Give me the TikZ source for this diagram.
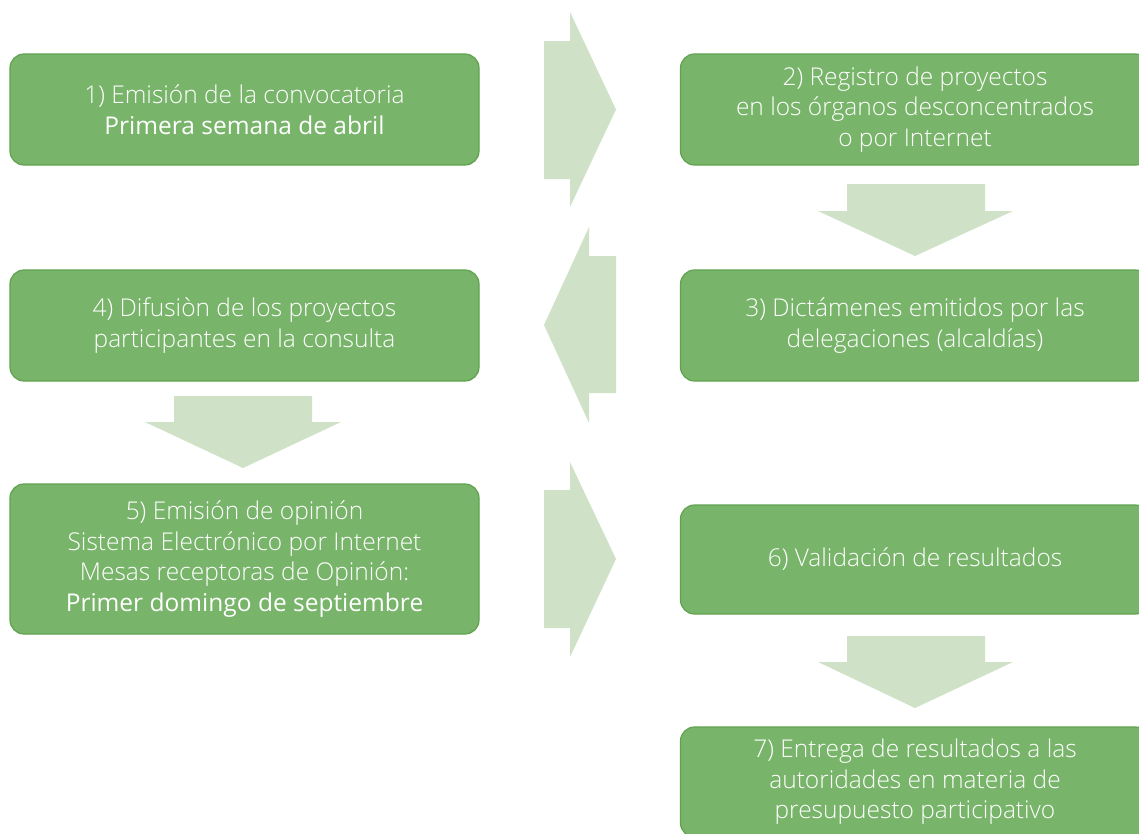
\documentclass[tikz,border=0pt]{standalone}
\usepackage{fontspec}
\setmainfont{Open Sans}
\newfontfamily\regfont{Open Sans}
\IfFontExistsTF{Open Sans Light}{\newfontfamily\lightfont{Open Sans Light}}{\newfontfamily\lightfont{Open Sans}}
\definecolor{boxfill}{RGB}{120,180,106}
\definecolor{boxline}{RGB}{96,162,80}
\definecolor{arrowfill}{RGB}{207,226,199}
\begin{document}
\begin{tikzpicture}[x=1pt,y=-1pt,
  box/.style={draw=boxline, line width=1.2pt, fill=boxfill, rounded corners=14pt,
    minimum width=469pt, align=center, text=white, inner sep=0pt,
    font=\lightfont\fontsize{24.5}{30.5}\selectfont},
  blockarrow/.style={fill=arrowfill, draw=none}]
\clip (0,0) rectangle (1139,833);
% boxes
\node[box, minimum height=111pt] (b1) at (244.5,109.5) {1) Emisión de la convocatoria\\{\regfont Primera semana de abril}};
\node[box, minimum height=111pt] (b2) at (915,109.5) {2) Registro de proyectos\\en los órganos desconcentrados\\o por Internet};
\node[box, minimum height=111pt] (b3) at (915,325.5) {3) Dictámenes emitidos por las\\delegaciones (alcaldías)};
\node[box, minimum height=111pt] (b4) at (244.5,325.5) {4) Difusiòn de los proyectos\\participantes en la consulta};
\node[box, minimum height=150pt] (b5) at (244.5,559) {5) Emisión de opinión\\Sistema Electrónico por Internet\\Mesas receptoras de Opinión:\\{\regfont Primer domingo de septiembre}};
\node[box, minimum height=109pt] (b6) at (915,559.5) {6) Validación de resultados};
\node[box, minimum height=110pt] (b7) at (915,782) {7) Entrega de resultados a las\\autoridades en materia de\\presupuesto participativo};
% block arrows
\fill[blockarrow] (544,41) -- (570,41) -- (570,12) -- (616,109.5) -- (570,207) -- (570,179) -- (544,179) -- cycle;
\fill[blockarrow] (847,184) -- (985,184) -- (985,211) -- (1013,211) -- (915,256) -- (818,211) -- (847,211) -- cycle;
\fill[blockarrow] (616,256) -- (589,256) -- (589,227) -- (544,325) -- (589,423) -- (589,393) -- (616,393) -- cycle;
\fill[blockarrow] (174,396) -- (312,396) -- (312,422) -- (341,422) -- (243,468) -- (145,422) -- (174,422) -- cycle;
\fill[blockarrow] (544,490) -- (570,490) -- (570,462) -- (616,559) -- (570,657) -- (570,628) -- (544,628) -- cycle;
\fill[blockarrow] (847,636) -- (985,636) -- (985,662) -- (1013,662) -- (915,708) -- (818,662) -- (847,662) -- cycle;
\end{tikzpicture}
\end{document}
